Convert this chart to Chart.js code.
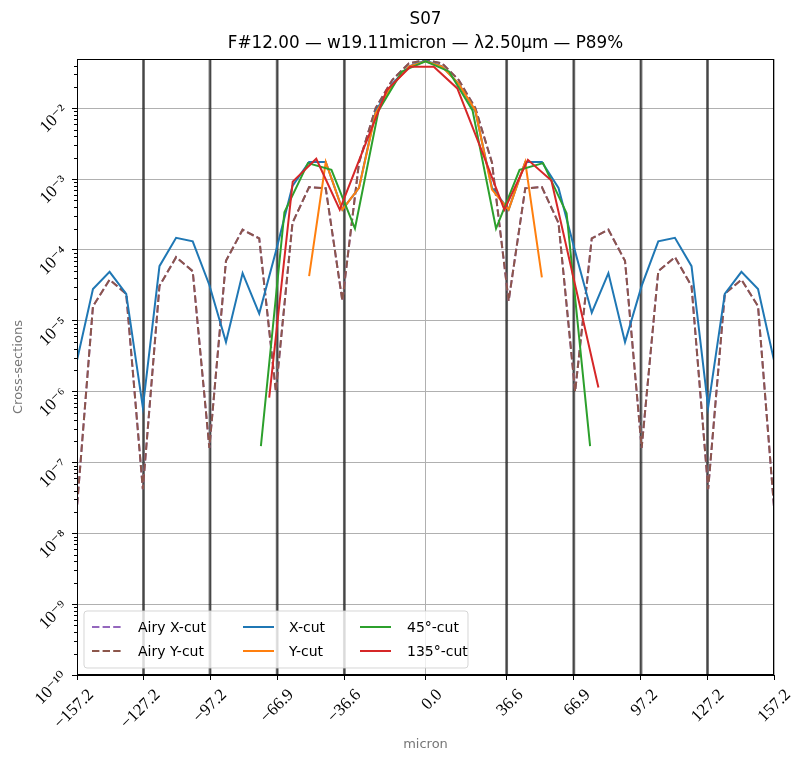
<!DOCTYPE html>
<html><head><meta charset="utf-8">
<script src="https://cdn.jsdelivr.net/npm/chart.js@4.4.0/dist/chart.umd.min.js"></script>
<style>html,body{margin:0;padding:0;background:#fff;}#wrap{width:802px;height:761px;}</style>
</head><body><div id="wrap"><canvas id="c" width="802" height="761"></canvas></div>
<script>
const titleLines = ['S07', 'F#12.00 \u2014 w19.11micron \u2014 \u03bb2.50\u00b5m \u2014 P89%'];
const xTickValues = [-157.2, -127.2, -97.2, -66.9, -36.6, 0.0, 36.6, 66.9, 97.2, 127.2, 157.2];
const xTickLabels = ['\u2212157.2', '\u2212127.2', '\u221297.2', '\u221266.9', '\u221236.6', '0.0', '36.6', '66.9', '97.2', '127.2', '157.2'];
const ringPositions = [-127.2, -97.2, -66.9, -36.6, 36.6, 66.9, 97.2, 127.2];
const yTickValues = [1e-10, 1e-9, 1e-8, 1e-7, 1e-6, 1e-5, 1e-4, 1e-3, 1e-2];
const yTickLabels = ['10\u207b\u00b9\u2070', '10\u207b\u2079', '10\u207b\u2078', '10\u207b\u2077', '10\u207b\u2076', '10\u207b\u2075', '10\u207b\u2074', '10\u207b\u00b3', '10\u207b\u00b2'];
const yMinorMultipliers = [2, 3, 4, 5, 6, 7, 8, 9];

const xRect = [-157.5, -150, -142.5, -135, -127.5, -120, -112.5, -105, -97.5, -90, -82.5, -75, -67.5, -60, -52.5, -45, -37.5, -30, -22.5, -15, -7.5, 0, 7.5, 15, 22.5, 30, 37.5, 45, 52.5, 60, 67.5, 75, 82.5, 90, 97.5, 105, 112.5, 120, 127.5, 135, 142.5, 150, 157.5];
const airyXcut = [1.8e-8, 1.6e-5, 3.8e-5, 2.4e-5, 4.2e-8, 3.1e-5, 7.9e-5, 5.0e-5, 1.6e-7, 7.0e-5, 1.93e-4, 1.45e-4, 1.0e-6, 2.4e-4, 7.7e-4, 7.4e-4, 1.9e-5, 1.7e-3, 1.0e-2, 2.5e-2, 4.3e-2, 4.8e-2, 4.3e-2, 2.5e-2, 1.0e-2, 1.7e-3, 1.9e-5, 7.4e-4, 7.7e-4, 2.4e-4, 1.0e-6, 1.45e-4, 1.93e-4, 7.0e-5, 1.6e-7, 5.0e-5, 7.9e-5, 3.1e-5, 4.2e-8, 2.4e-5, 3.8e-5, 1.6e-5, 1.8e-8];
const airyYcut = [1.8e-8, 1.6e-5, 3.8e-5, 2.4e-5, 4.2e-8, 3.1e-5, 7.9e-5, 5.0e-5, 1.6e-7, 7.0e-5, 1.93e-4, 1.45e-4, 1.0e-6, 2.4e-4, 7.7e-4, 7.4e-4, 1.9e-5, 1.7e-3, 1.0e-2, 2.5e-2, 4.3e-2, 4.8e-2, 4.3e-2, 2.5e-2, 1.0e-2, 1.7e-3, 1.9e-5, 7.4e-4, 7.7e-4, 2.4e-4, 1.0e-6, 1.45e-4, 1.93e-4, 7.0e-5, 1.6e-7, 5.0e-5, 7.9e-5, 3.1e-5, 4.2e-8, 2.4e-5, 3.8e-5, 1.6e-5, 1.8e-8];
const xCut = [2.5e-6, 2.8e-5, 4.9e-5, 2.4e-5, 6.0e-7, 5.9e-5, 1.48e-4, 1.32e-4, 3.2e-5, 5.0e-6, 4.7e-5, 1.26e-5, 9.5e-5, 8.0e-4, 1.74e-3, 1.74e-3, 3.7e-4, 7.5e-4, 9.0e-3, 2.2e-2, 3.9e-2, 4.7e-2, 3.9e-2, 2.2e-2, 9.0e-3, 7.5e-4, 3.7e-4, 1.74e-3, 1.74e-3, 7.5e-4, 9.5e-5, 1.3e-5, 4.7e-5, 5.0e-6, 3.1e-5, 1.32e-4, 1.48e-4, 5.9e-5, 6.0e-7, 2.4e-5, 4.9e-5, 2.8e-5, 2.5e-6];
const xYcut = [-52.5, -45, -37.5, -30, -22.5, -15, -7.5, 0, 7.5, 15, 22.5, 30, 37.5, 45, 52.5];
const yCut = [4.25e-5, 1.74e-3, 3.7e-4, 7.5e-4, 8.5e-3, 2.1e-2, 3.85e-2, 4.6e-2, 3.85e-2, 2.2e-2, 9.3e-3, 7.1e-4, 3.7e-4, 1.74e-3, 4.1e-5];
const x45 = [-74.25, -63.64, -53.03, -42.43, -31.82, -21.21, -10.61, 0, 10.61, 21.21, 31.82, 42.43, 53.03, 63.64, 74.25];
const cut45 = [1.7e-7, 3.4e-4, 1.68e-3, 1.35e-3, 2.0e-4, 9.2e-3, 3.3e-2, 4.6e-2, 3.3e-2, 9.3e-3, 2.0e-4, 1.35e-3, 1.68e-3, 3.3e-4, 1.7e-7];
const x135 = [-70.5, -59.89, -49.28, -38.68, -28.07, -17.46, -6.86, 3.75, 14.36, 24.96, 35.57, 46.18, 56.79, 67.39, 78.0];
const cut135 = [8.2e-7, 9.2e-4, 1.93e-3, 3.7e-4, 2.6e-3, 1.8e-2, 3.85e-2, 3.85e-2, 1.9e-2, 2.7e-3, 3.7e-4, 1.87e-3, 9.5e-4, 3.3e-5, 1.14e-6];

const pts = (xs, ys) => xs.map((x, i) => ({x: x, y: ys[i]}));
const base = {borderWidth: 2, pointRadius: 0, tension: 0, fill: false};

const datasets = [
  Object.assign({label: 'Airy X-cut', data: pts(xRect, airyXcut), borderColor: '#9467bd', borderDash: [7.4, 3.2], order: 5}, base),
  Object.assign({label: 'Airy Y-cut', data: pts(xRect, airyYcut), borderColor: '#8c564b', borderDash: [7.4, 3.2], order: 4}, base),
  Object.assign({label: 'X-cut', data: pts(xRect, xCut), borderColor: '#1f77b4', order: 3}, base),
  Object.assign({label: 'Y-cut', data: pts(xYcut, yCut), borderColor: '#ff7f0e', order: 2}, base),
  Object.assign({label: '45\u00b0-cut', data: pts(x45, cut45), borderColor: '#2ca02c', order: 1}, base),
  Object.assign({label: '135\u00b0-cut', data: pts(x135, cut135), borderColor: '#d62728', order: 0}, base)
];

const ringPlugin = {
  id: 'rings',
  beforeDatasetsDraw(chart) {
    const {ctx, chartArea: a, scales: {x}} = chart;
    ctx.save();
    ctx.strokeStyle = 'rgba(0,0,0,0.6)';
    ctx.lineWidth = 2.8;
    ringPositions.forEach(v => {
      const px = x.getPixelForValue(v);
      ctx.beginPath(); ctx.moveTo(px, a.top); ctx.lineTo(px, a.bottom); ctx.stroke();
    });
    ctx.restore();
  }
};

// legend layout: [datasetIndex, column, row]
const legendLayout = [[0, 0, 0], [1, 0, 1], [2, 1, 0], [3, 1, 1], [4, 2, 0], [5, 2, 1]];
const legendPlugin = {
  id: 'mplLegend',
  afterDatasetsDraw(chart) {
    const {ctx, chartArea: a} = chart;
    const bx = a.left + 7, by = a.bottom - 64, bw = 384, bh = 57;
    ctx.save();
    ctx.fillStyle = 'rgba(255,255,255,0.8)';
    ctx.strokeStyle = 'rgba(204,204,204,0.8)';
    ctx.lineWidth = 1;
    ctx.beginPath();
    if (ctx.roundRect) ctx.roundRect(bx, by, bw, bh, 3); else ctx.rect(bx, by, bw, bh);
    ctx.fill(); ctx.stroke();
    const handleX = [bx + 8, bx + 159, bx + 276];
    const textX = [bx + 54, bx + 205, bx + 323];
    const rowY = [by + 17, by + 41];
    ctx.font = '14px "DejaVu Sans"';
    ctx.textBaseline = 'middle';
    ctx.textAlign = 'left';
    legendLayout.forEach(([di, c, r]) => {
      const ds = chart.data.datasets[di];
      ctx.strokeStyle = ds.borderColor;
      ctx.lineWidth = 2;
      ctx.setLineDash(ds.borderDash || []);
      ctx.beginPath(); ctx.moveTo(handleX[c], rowY[r] - 1); ctx.lineTo(handleX[c] + 31, rowY[r] - 1); ctx.stroke();
      ctx.setLineDash([]);
      ctx.fillStyle = '#000';
      ctx.fillText(ds.label, textX[c], rowY[r]);
    });
    ctx.restore();
  }
};

const framePlugin = {
  id: 'frame',
  afterDraw(chart) {
    const {ctx, chartArea: a, scales: {y}} = chart;
    ctx.save();
    ctx.strokeStyle = '#000';
    ctx.lineWidth = 1;
    yTickValues.forEach(v => {
      yMinorMultipliers.forEach(m => {
        const mv = v * m;
        if (mv > y.max) return;
        const py = Math.round(y.getPixelForValue(mv)) + 0.5;
        ctx.beginPath(); ctx.moveTo(a.left - 3, py); ctx.lineTo(a.left, py); ctx.stroke();
      });
    });
    ctx.strokeRect(Math.round(a.left) + 0.5, Math.round(a.top) + 0.5, Math.round(a.right - a.left) - 1, Math.round(a.bottom - a.top) - 1);
    ctx.restore();
  }
};

new Chart(document.getElementById('c'), {
  type: 'line',
  data: {datasets: datasets},
  plugins: [ringPlugin, legendPlugin, framePlugin],
  options: {
    responsive: false,
    devicePixelRatio: 1,
    animation: false,
    layout: {padding: {left: 0, right: 28, top: 0, bottom: 0}},
    plugins: {
      legend: {display: false},
      tooltip: {enabled: false},
      title: {
        display: true, fullSize: false, text: titleLines, color: '#000',
        font: {family: '"DejaVu Sans"', size: 16.8, weight: 'normal', lineHeight: 1.4},
        padding: {top: 8, bottom: 4}
      }
    },
    scales: {
      x: {
        type: 'linear', min: -157.2, max: 157.2,
        afterBuildTicks(s) { s.ticks = xTickValues.map(v => ({value: v})); },
        afterFit(s) { s.height = 86; },
        ticks: {
          callback: (v, i) => xTickLabels[i],
          autoSkip: false, minRotation: 45, maxRotation: 45,
          labelOffset: 14, padding: 5, color: '#000',
          font: {family: '"Liberation Serif", "DejaVu Serif"', size: 17}
        },
        grid: {color: '#b0b0b0', lineWidth: 1, tickColor: '#000', tickLength: 5},
        border: {color: '#000', width: 1},
        title: {display: true, text: 'micron', color: '#777', font: {family: '"DejaVu Sans"', size: 13}, padding: {top: 0, bottom: 9}}
      },
      y: {
        type: 'logarithmic', min: 1e-10, max: 0.0494,
        afterBuildTicks(s) { s.ticks = yTickValues.map(v => ({value: v, major: true})); },
        afterFit(s) { s.width = 77; },
        ticks: {
          callback: (v, i) => yTickLabels[i],
          autoSkip: false, minRotation: 45, maxRotation: 45,
          padding: 7, color: '#000',
          font: {family: '"Liberation Serif", "DejaVu Serif"', size: 17}
        },
        grid: {color: '#b0b0b0', lineWidth: 1, tickColor: '#000', tickLength: 5},
        border: {color: '#000', width: 1},
        title: {display: true, text: 'Cross-sections', color: '#777', font: {family: '"DejaVu Sans"', size: 13}, padding: {top: 11, bottom: 0}}
      }
    }
  }
});
</script></body></html>
